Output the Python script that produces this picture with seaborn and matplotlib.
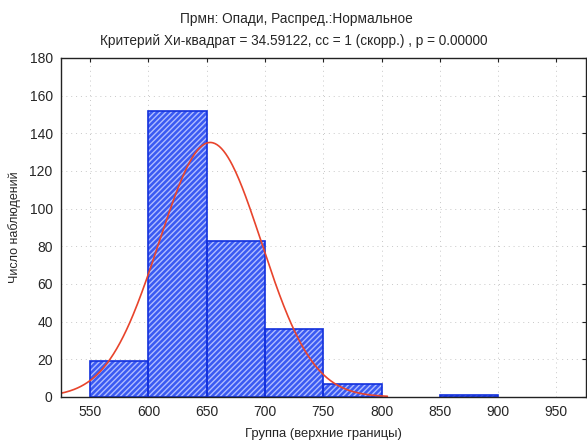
import numpy as np
import pandas as pd
import matplotlib
matplotlib.use("Agg")
import matplotlib.pyplot as plt
import seaborn as sns

# Data
bin_edges = [550, 600, 650, 700, 750, 800, 850, 900, 950]
counts = [19, 152, 83, 36, 7, 0, 1, 0]
fit_mean = 653.0
fit_sigma = 44.0
x_ticks = [550, 600, 650, 700, 750, 800, 850, 900, 950]
y_ticks = [0, 20, 40, 60, 80, 100, 120, 140, 160, 180]
title1 = "Прмн: Опади, Распред.:Нормальное"
title2 = "Критерий Хи-квадрат = 34.59122, сс = 1 (скорр.) , p = 0.00000"
xlabel = "Группа (верхние границы)"
ylabel = "Число наблюдений"

sns.set_style("white")
plt.rcParams['font.family'] = ['Liberation Sans', 'DejaVu Sans']
plt.rcParams['hatch.linewidth'] = 1.0

centers = [(a + b) / 2 for a, b in zip(bin_edges[:-1], bin_edges[1:])]
df = pd.DataFrame({"x": centers, "w": counts})

fig = plt.figure(figsize=(5.87, 4.42), dpi=100)
ax = fig.add_axes([0.104, 0.102, 0.8935, 0.767])

# hatched fill
sns.histplot(data=df, x="x", weights="w", bins=bin_edges, ax=ax,
             color="#3a5af2", alpha=1.0, linewidth=0)
n_fill = len(ax.patches)
for p in ax.patches:
    p.set_hatch("//////")
    p.set_edgecolor("#b0bcff")
    p.set_linewidth(0)
# outlines
sns.histplot(data=df, x="x", weights="w", bins=bin_edges, ax=ax,
             fill=False, linewidth=1.2)
for p in ax.patches[n_fill:]:
    p.set_edgecolor("#1230dc")
    p.set_facecolor("none")
    p.set_alpha(1.0)
    if p.get_height() == 0:
        p.set_visible(False)

# fitted normal curve
total = sum(counts)
width = bin_edges[1] - bin_edges[0]
xs = np.linspace(525, 805, 300)
ys = total * width / (fit_sigma * np.sqrt(2 * np.pi)) * np.exp(-0.5 * ((xs - fit_mean) / fit_sigma) ** 2)
sns.lineplot(x=xs, y=ys, ax=ax, color="#e8442c", linewidth=1.2)

ax.set_xlim(525, 975)
ax.set_ylim(0, 180)
ax.set_xticks(x_ticks)
ax.set_yticks(y_ticks)
ax.grid(True, linestyle=(0, (1, 4)), color="#c8c8c8", linewidth=0.7)
ax.set_axisbelow(True)
for s in ax.spines.values():
    s.set_visible(True)
    s.set_color("#222222")
    s.set_linewidth(1.0)
ax.tick_params(direction="in", length=3, top=True, right=True, labelsize=10, pad=6,
               color="#222222")
ax.set_xlabel(xlabel, fontsize=9.4, labelpad=6)
ax.set_ylabel(ylabel, fontsize=9, labelpad=6)

fig.text(0.505, 0.957, title1, ha="center", va="center", fontsize=9.8)
fig.text(0.50, 0.908, title2, ha="center", va="center", fontsize=9.8)

fig.savefig("out.png", dpi=100)
